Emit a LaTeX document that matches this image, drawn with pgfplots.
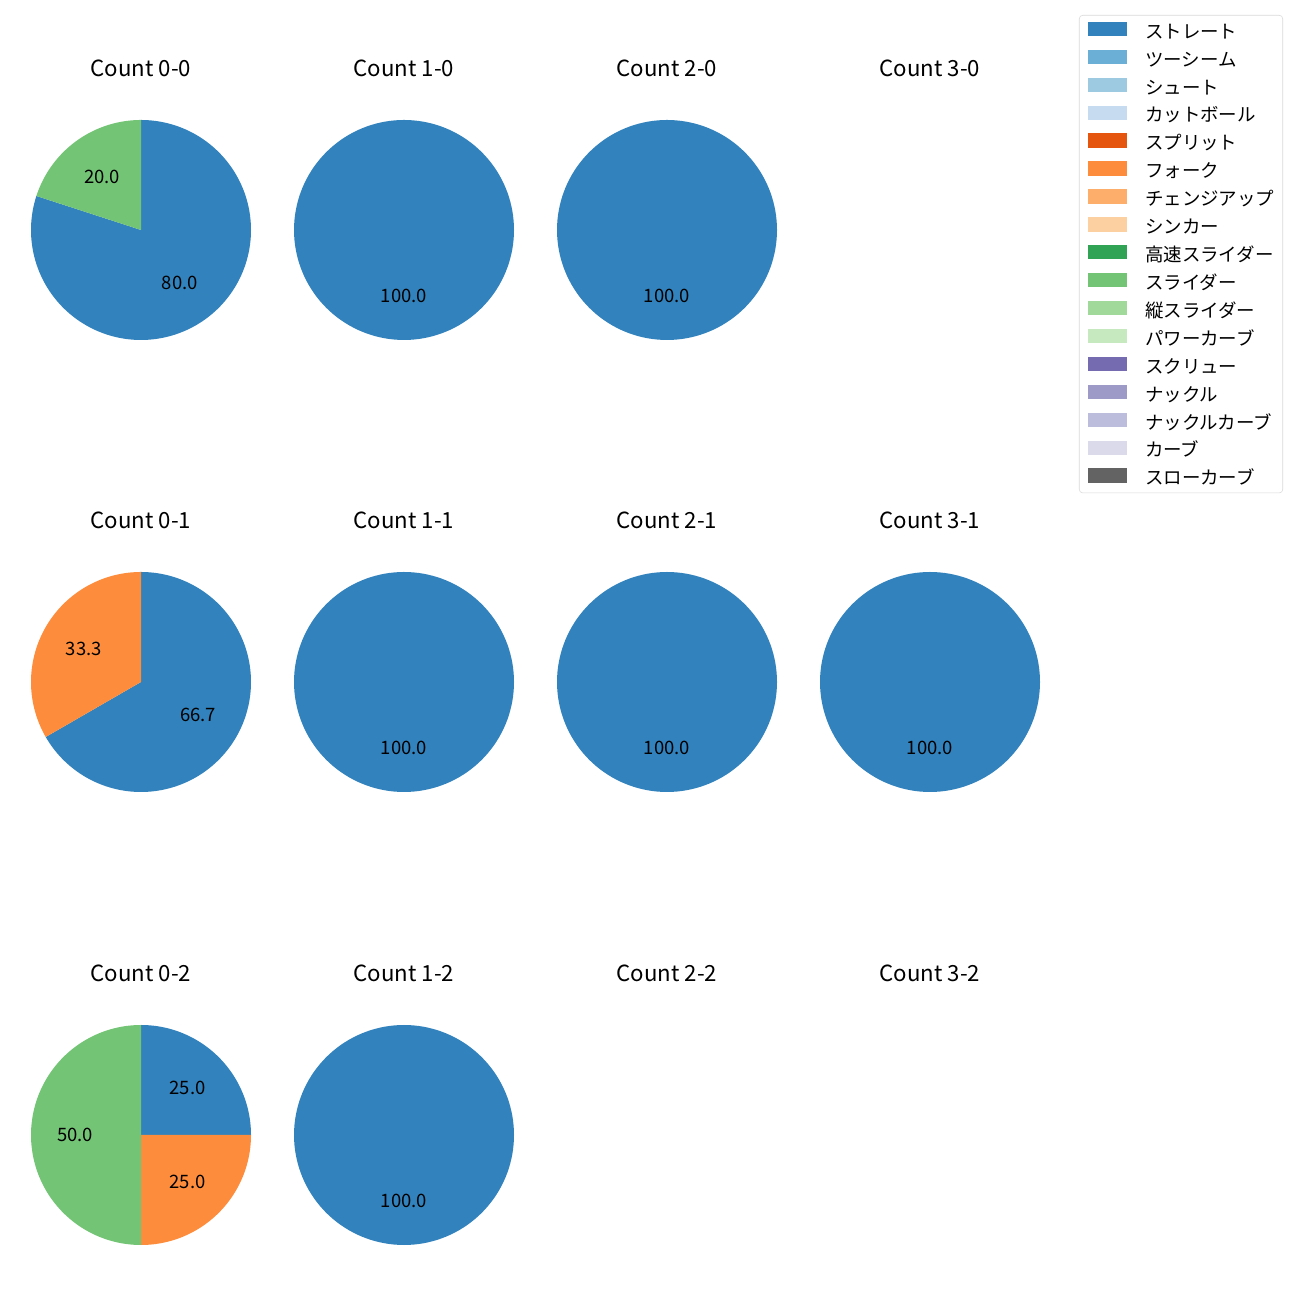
\documentclass[border=0pt]{standalone}
\usepackage{pgfplots}
\pgfplotsset{compat=1.18}
\usepackage{fontspec}
\setmainfont{Noto Sans CJK JP}
\definecolor{c0}{HTML}{3182BD}\definecolor{c1}{HTML}{6BAED6}\definecolor{c2}{HTML}{9ECAE1}\definecolor{c3}{HTML}{C6DBEF}
\definecolor{c4}{HTML}{E6550D}\definecolor{c5}{HTML}{FD8D3C}\definecolor{c6}{HTML}{FDAE6B}\definecolor{c7}{HTML}{FDD0A2}
\definecolor{c8}{HTML}{31A354}\definecolor{c9}{HTML}{74C476}\definecolor{c10}{HTML}{A1D99B}\definecolor{c11}{HTML}{C7E9C0}
\definecolor{c12}{HTML}{756BB1}\definecolor{c13}{HTML}{9E9AC8}\definecolor{c14}{HTML}{BCBDDC}\definecolor{c15}{HTML}{DADAEB}
\definecolor{c16}{HTML}{636363}
\pgfplotsset{pieax/.style={anchor=center, x=79.2pt, y=79.2pt, xmin=-1.1, xmax=1.1, ymin=-1.1, ymax=1.1,
  hide axis, clip=false,
  title style={at={(0.5,0.5)}, anchor=base, yshift=104.4pt, font=\fontsize{16}{19}\selectfont}}}
% slice from cumulative percent #1 to #2 (clockwise, starting at 12 o'clock)
\newcommand{\slice}[3]{\addplot[fill=#3, draw=none, forget plot, domain=90-3.6*#2:90-3.6*#1, samples=145, variable=\t] ({cos(\t)},{sin(\t)}) -- (0,0) -- cycle;}
\newcommand{\lab}[3]{\node[font=\fontsize{13.3}{16}\selectfont, inner sep=0pt] at (axis cs:#1,#2) {#3};}
\begin{document}
\begin{tikzpicture}
% Row 1
\begin{axis}[pieax, at={(101.52pt,770.4pt)}, title={Count 0-0}]
\slice{0}{80}{c0}\slice{80}{100}{c9}
\lab{0.3527}{-0.4854}{80.0}\lab{-0.3527}{0.4854}{20.0}
\end{axis}
\begin{axis}[pieax, at={(290.88pt,770.4pt)}, title={Count 1-0}]
\slice{0}{100}{c0}\lab{0}{-0.6}{100.0}
\end{axis}
\begin{axis}[pieax, at={(480.24pt,770.4pt)}, title={Count 2-0}]
\slice{0}{100}{c0}\lab{0}{-0.6}{100.0}
\end{axis}
\begin{axis}[pieax, at={(669.6pt,770.4pt)}, title={Count 3-0},
  legend cell align=left,
  legend style={at={(1.9587,1.3884)}, anchor=north east, draw=black!15, rounded corners=2.5pt, fill=white,
    inner xsep=6pt, inner ysep=3pt, font=\fontsize{13.3}{16}\selectfont, row sep=3.8pt,
    nodes={inner sep=0pt, text height=9.6pt, text depth=2.8pt}},
  legend image code/.code={\fill[#1, sharp corners] (0pt,-1.4pt) rectangle (28pt,8.2pt); \path (41pt,9.9pt);}]
\addlegendimage{c0}\addlegendentry{ストレート}
\addlegendimage{c1}\addlegendentry{ツーシーム}
\addlegendimage{c2}\addlegendentry{シュート}
\addlegendimage{c3}\addlegendentry{カットボール}
\addlegendimage{c4}\addlegendentry{スプリット}
\addlegendimage{c5}\addlegendentry{フォーク}
\addlegendimage{c6}\addlegendentry{チェンジアップ}
\addlegendimage{c7}\addlegendentry{シンカー}
\addlegendimage{c8}\addlegendentry{高速スライダー}
\addlegendimage{c9}\addlegendentry{スライダー}
\addlegendimage{c10}\addlegendentry{縦スライダー}
\addlegendimage{c11}\addlegendentry{パワーカーブ}
\addlegendimage{c12}\addlegendentry{スクリュー}
\addlegendimage{c13}\addlegendentry{ナックル}
\addlegendimage{c14}\addlegendentry{ナックルカーブ}
\addlegendimage{c15}\addlegendentry{カーブ}
\addlegendimage{c16}\addlegendentry{スローカーブ}
\addplot[draw=none, forget plot] coordinates {(0,0)};
\end{axis}
% Row 2
\begin{axis}[pieax, at={(101.52pt,444.96pt)}, title={Count 0-1}]
\slice{0}{66.667}{c0}\slice{66.667}{100}{c5}
\lab{0.5196}{-0.3}{66.7}\lab{-0.5196}{0.3}{33.3}
\end{axis}
\begin{axis}[pieax, at={(290.88pt,444.96pt)}, title={Count 1-1}]
\slice{0}{100}{c0}\lab{0}{-0.6}{100.0}
\end{axis}
\begin{axis}[pieax, at={(480.24pt,444.96pt)}, title={Count 2-1}]
\slice{0}{100}{c0}\lab{0}{-0.6}{100.0}
\end{axis}
\begin{axis}[pieax, at={(669.6pt,444.96pt)}, title={Count 3-1}]
\slice{0}{100}{c0}\lab{0}{-0.6}{100.0}
\end{axis}
% Row 3
\begin{axis}[pieax, at={(101.52pt,118.8pt)}, title={Count 0-2}]
\slice{0}{25}{c0}\slice{25}{50}{c5}\slice{50}{100}{c9}
\lab{0.4243}{0.4243}{25.0}\lab{0.4243}{-0.4243}{25.0}\lab{-0.6}{0}{50.0}
\end{axis}
\begin{axis}[pieax, at={(290.88pt,118.8pt)}, title={Count 1-2}]
\slice{0}{100}{c0}\lab{0}{-0.6}{100.0}
\end{axis}
\begin{axis}[pieax, at={(480.24pt,118.8pt)}, title={Count 2-2}]
\addplot[draw=none, forget plot] coordinates {(0,0)};
\end{axis}
\begin{axis}[pieax, at={(669.6pt,118.8pt)}, title={Count 3-2}]
\addplot[draw=none, forget plot] coordinates {(0,0)};
\end{axis}
\pgfresetboundingbox
\path[use as bounding box] (0,0) rectangle (936pt,936pt);
\end{tikzpicture}
\end{document}
